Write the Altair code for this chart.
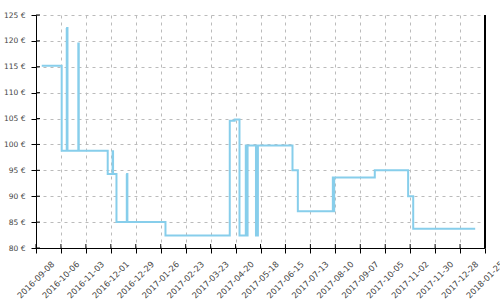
import altair as alt
import pandas as pd

dates = [
    "2016-09-14T10:00", "2016-10-06T20:00", "2016-10-12T12:00", "2016-10-12T22:00",
    "2016-10-13T08:00", "2016-10-25T12:00", "2016-10-26T00:00", "2016-11-27T12:00",
    "2016-12-03T00:00", "2016-12-03T12:00", "2016-12-07T08:00", "2016-12-18T22:00",
    "2016-12-19T06:00", "2016-12-19T14:00", "2017-01-31T08:00", "2017-04-13T12:00",
    "2017-04-19T00:00", "2017-04-24T10:00", "2017-05-01T12:00", "2017-05-02T12:00",
    "2017-05-03T12:00", "2017-05-12T22:00", "2017-05-15T02:00", "2017-06-22T22:00",
    "2017-06-28T22:00", "2017-08-07T05:00", "2017-08-08T00:00", "2017-08-08T17:00",
    "2017-09-23T07:00", "2017-10-30T17:00", "2017-11-05T10:00", "2018-01-14T00:00",
]
prices = [
    115.2, 98.8, 122.3, 122.5,
    98.8, 119.5, 98.8, 94.3,
    98.7, 94.3, 85.0, 94.1,
    94.3, 85.0, 82.4, 104.6,
    104.8, 82.4, 99.8, 82.4,
    99.8, 82.4, 99.8, 95.0,
    87.1, 93.6, 87.1, 93.6,
    95.0, 90.0, 83.7, 83.7,
]

x_ticks = [
    "2016-09-08", "2016-10-06", "2016-11-03", "2016-12-01", "2016-12-29",
    "2017-01-26", "2017-02-23", "2017-03-23", "2017-04-20", "2017-05-18",
    "2017-06-15", "2017-07-13", "2017-08-10", "2017-09-07", "2017-10-05",
    "2017-11-02", "2017-11-30", "2017-12-28", "2018-01-25",
]
y_ticks = [80, 85, 90, 95, 100, 105, 110, 115, 120, 125]

W, H = 449, 233


def dt(s):
    y, m, d = (int(p) for p in s.split("-"))
    return alt.DateTime(year=y, month=m, date=d)


df = pd.DataFrame({"date": dates, "price": prices})
xt = pd.DataFrame({"date": x_ticks})
yt = pd.DataFrame({"price": y_ticks})

x_scale = alt.Scale(domain=[dt(x_ticks[0]), dt(x_ticks[-1])])
y_scale = alt.Scale(domain=[y_ticks[0], y_ticks[-1]])

grid_common = dict(
    gridColor="#bbbbbb", gridDash=[3, 4], gridWidth=1,
    domainColor="black", domainWidth=1, tickColor="black", tickSize=5, tickWidth=1,
    labelFont="DejaVu Sans", labelColor="#444444",
    labelOverlap=False, labelFlush=False,
    title=None,
)
x_axis = alt.Axis(
    values=[dt(s) for s in x_ticks], format="%Y-%m-%d", labelAngle=-45,
    labelAlign="center", labelBaseline="middle", labelPadding=27, labelFontSize=8.3,
    tickCount=len(x_ticks), **grid_common)
y_axis = alt.Axis(values=y_ticks, labelExpr="datum.value + ' €'", labelPadding=6,
                  labelFontSize=7.5, tickCount=len(y_ticks), **grid_common)

X = alt.X("date:T", scale=x_scale, axis=x_axis)
Y = alt.Y("price:Q", scale=y_scale, axis=y_axis)

line = alt.Chart(df).mark_line(
    interpolate="step-after", color="#87ceeb", strokeWidth=2, strokeCap="butt"
).encode(x=X, y=Y)

ytick_in = alt.Chart(yt).mark_rule(color="black", strokeWidth=1).encode(
    y=Y, x=alt.value(0), x2=alt.value(4)
)
xtick_in = alt.Chart(xt).mark_rule(color="black", strokeWidth=1).encode(
    x=X, y=alt.value(H - 4), y2=alt.value(H)
)
right_border = alt.Chart(yt).mark_rule(color="black", strokeWidth=1.5).encode(
    x=alt.value(W), y=alt.value(0), y2=alt.value(H)
)

chart = alt.layer(line, ytick_in, xtick_in, right_border).properties(
    width=W, height=H,
    autosize=alt.AutoSizeParams(type="none"),
    padding={"left": 36, "top": 15, "right": 15, "bottom": 52},
).configure_view(stroke=None)

chart.save("out.html", embed_options={"renderer": "svg", "actions": False})
